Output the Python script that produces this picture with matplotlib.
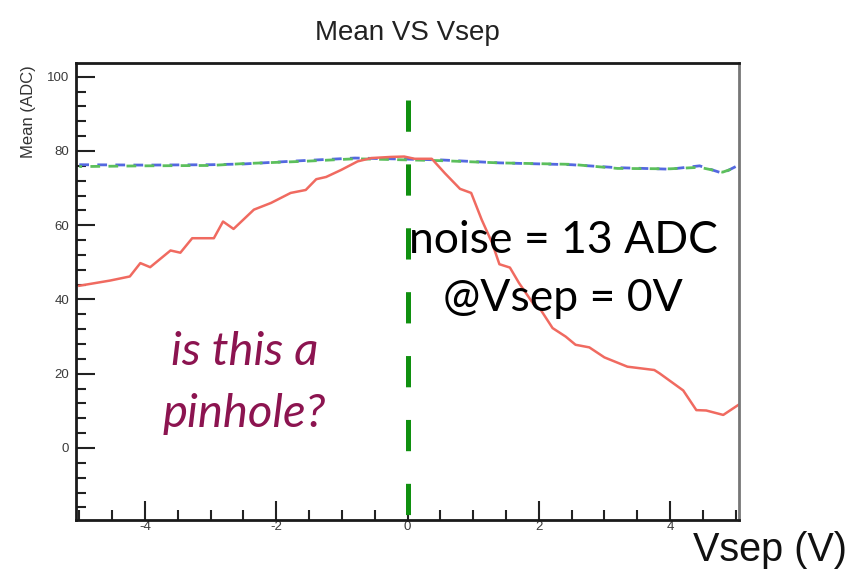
import numpy as np
import matplotlib
matplotlib.use('Agg')
import matplotlib.pyplot as plt
from matplotlib.ticker import MultipleLocator

plt.rcParams['font.family'] = ['Liberation Sans', 'DejaVu Sans']
plt.rcParams['lines.scale_dashes'] = False
plt.rcParams['axes.unicode_minus'] = False

# mean vs Vsep
vsep_red = [-5.0, -4.53, -4.23, -4.07, -3.92, -3.61, -3.46, -3.28, -2.95, -2.81, -2.65,
            -2.34, -2.08, -1.78, -1.55, -1.39, -1.24, -1.01, -0.76, -0.55, -0.25, -0.05,
            0.11, 0.37, 0.57, 0.80, 0.97, 1.13, 1.29, 1.40, 1.56, 1.70, 1.93, 2.03, 2.21,
            2.41, 2.56, 2.77, 3.00, 3.35, 3.76, 3.84, 4.20, 4.40, 4.55, 4.81, 5.04]
mean_red = [43.7, 45.1, 46.2, 49.8, 48.7, 53.2, 52.6, 56.5, 56.5, 61.0, 59.0,
            64.2, 66.0, 68.7, 69.5, 72.4, 73.0, 74.9, 77.2, 78.1, 78.4, 78.5,
            77.9, 77.9, 74.0, 69.8, 68.7, 61.5, 55.2, 49.5, 48.6, 44.4, 38.5, 37.2, 32.3,
            30.0, 27.8, 27.1, 24.4, 21.9, 21.0, 20.1, 15.5, 10.2, 10.1, 8.9, 11.6]

vsep_flat = [-5.0, -4.0, -3.0, -2.5, -1.6, -0.8, 0.0, 0.5, 1.4, 2.5, 3.2, 4.0, 4.45, 4.8, 5.0]
mean_blue = [76.3, 76.2, 76.3, 76.5, 77.4, 78.1, 77.8, 77.6, 76.8, 76.3, 75.5, 75.1, 76.0, 74.0, 75.8]
mean_green = [75.8, 76.0, 76.1, 76.6, 77.2, 77.9, 77.6, 77.4, 76.8, 76.4, 75.3, 75.2, 75.6, 74.3, 75.5]

W, H = 857, 572
fig = plt.figure(figsize=(W / 100, H / 100), dpi=100)
ax = fig.add_axes([76 / W, 1 - 520 / H, 663 / W, 457 / H])

ax.plot(vsep_flat, mean_blue, color='#5468e0', lw=2.0, linestyle=(0, (7, 6)))
ax.plot(vsep_flat, mean_green, color='#5cbf5c', lw=2.0, linestyle=(5, (7, 6)))
ax.plot(vsep_red, mean_red, color='#f06a60', lw=1.8)

# green marker line at Vsep = 0 (goes a bit past the frame)
ax.plot([0, 0], [93.8, -23.5], color='#109010', lw=3.6, dashes=(22.5, 23.5),
        clip_on=False, solid_capstyle='butt')

ax.set_xlim(-5.05, 5.05)
ax.set_ylim(-19.4, 103.7)
ax.xaxis.set_major_locator(MultipleLocator(2))
ax.xaxis.set_minor_locator(MultipleLocator(0.5))
ax.yaxis.set_major_locator(MultipleLocator(20))
ax.yaxis.set_minor_locator(MultipleLocator(4))
ax.tick_params(which='both', direction='in', top=False, right=False,
               labelsize=9.5, labelcolor='#3a3a3a', width=1.5, color='#222222')
ax.tick_params(which='major', length=14)
ax.tick_params(which='minor', length=7)
ax.tick_params(axis='x', pad=1)
ax.tick_params(axis='y', pad=5)
for s in ['left', 'bottom', 'top']:
    ax.spines[s].set_linewidth(2)
    ax.spines[s].set_color('#1a1a1a')
ax.spines['right'].set_linewidth(2)
ax.spines['right'].set_color('#777777')

fig.text(407 / W, 1 - 40 / H, 'Mean VS Vsep', ha='center', va='baseline',
         fontsize=20, color='#222222')
fig.text(29 / W, 1 - 112 / H, 'Mean (ADC)', ha='center', va='center',
         rotation=90, fontsize=12, color='#333333')

fig.text(563 / W, 1 - 253 / H, 'noise = 13 ADC', ha='center', va='baseline',
         fontsize=32, family=['Lato', 'DejaVu Sans'], color='black')
fig.text(563 / W, 1 - 311 / H, '@Vsep = 0V', ha='center', va='baseline',
         fontsize=32, family=['Lato', 'DejaVu Sans'], color='black')
fig.text(245 / W, 1 - 365 / H, 'is this a', ha='center', va='baseline',
         fontsize=34, family=['Lato', 'DejaVu Sans'], style='italic', color='#8c1450')
fig.text(244 / W, 1 - 427 / H, 'pinhole?', ha='center', va='baseline',
         fontsize=34, family=['Lato', 'DejaVu Sans'], style='italic', color='#8c1450')

fig.text(770 / W, 1 - 561 / H, 'Vsep (V)', ha='center', va='baseline',
         fontsize=28.5, color='#111111')

fig.savefig('out.png', dpi=100)
